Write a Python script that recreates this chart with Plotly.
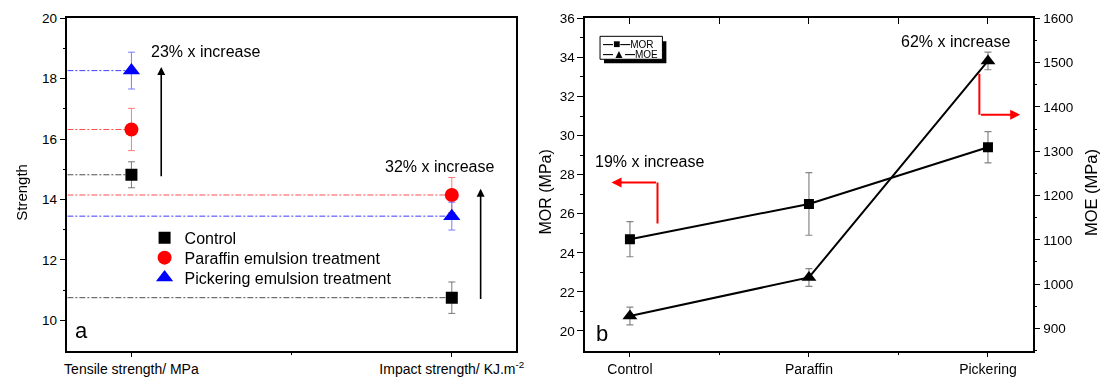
import plotly.graph_objects as go

# ---------------- data (panel a) ----------------
left_categories = ["Tensile strength/ MPa", "Impact strength/ KJ.m<sup>-2</sup>"]
left_positions = [0, 1]
control_vals = [14.82, 10.75]
control_err = [0.43, 0.52]
paraffin_vals = [16.32, 14.15]
paraffin_err = [0.70, 0.58]
pickering_vals = [18.27, 13.45]
pickering_err = [0.61, 0.46]

# ---------------- data (panel b) ----------------
right_categories = ["Control", "Paraffin", "Pickering"]
right_positions = [0, 1, 2]
mor_vals = [24.7, 26.5, 29.4]
mor_err = [0.9, 1.6, 0.8]
moe_vals = [928, 1015, 1504]
moe_err = [20, 20, 20]

FONT = "Liberation Sans, Arial, sans-serif"
XL_RANGE = [-0.2, 1.2]
XR_RANGE = [-0.25, 2.25]
W, H = 1112, 378


def px(p):
    return p / W


def py(p):
    # vertical pixel position (from top) -> paper fraction, with small calibration
    return 1 - ((p - 6.6) / 0.984) / H


fig = go.Figure()

series = [
    ("Control", control_vals, control_err, "black", "rgba(60,60,60,0.9)", "rgba(90,90,90,0.8)", "square", 12, "legend", 238),
    ("Paraffin emulsion treatment", paraffin_vals, paraffin_err, "#ff0000", "rgba(255,60,60,0.9)", "rgba(255,110,110,0.9)", "circle", 14, "legend2", 258),
    ("Pickering emulsion treatment", pickering_vals, pickering_err, "#0000ff", "rgba(40,40,255,0.9)", "rgba(110,110,255,0.9)", "triangle-up", 15, "legend3", 278),
]

# dash-dot guide lines from the left axis to each point
for name, vals, errs, col, lcol, ecol, sym, sz, lg, ly in series:
    for pos, v in zip(left_positions, vals):
        fig.add_trace(go.Scatter(
            x=[XL_RANGE[0], pos], y=[v, v], mode="lines",
            line=dict(color=lcol, width=1, dash="6px,2px,2px,2px"),
            showlegend=False, hoverinfo="skip", xaxis="x", yaxis="y"))

legend_layout = {}
for name, vals, errs, col, lcol, ecol, sym, sz, lg, ly in series:
    fig.add_trace(go.Scatter(
        x=left_positions, y=vals, mode="markers", name=name,
        marker=dict(color=col, symbol=sym, size=sz, line=dict(width=0)),
        error_y=dict(type="data", array=errs, color=ecol, thickness=1, width=3.5),
        xaxis="x", yaxis="y", legend=lg))
    legend_layout[lg] = dict(x=px(143), y=py(ly), xanchor="left", yanchor="middle",
                             bgcolor="rgba(0,0,0,0)", borderwidth=0,
                             font=dict(family=FONT, size=16, color="black"))

# panel b
fig.add_trace(go.Scatter(
    x=right_positions, y=mor_vals, mode="lines+markers", name="MOR", showlegend=False,
    line=dict(color="black", width=2),
    marker=dict(color="black", symbol="square", size=10),
    error_y=dict(type="data", array=mor_err, color="rgba(120,120,120,0.9)", thickness=1.2, width=3.5),
    xaxis="x2", yaxis="y2"))
fig.add_trace(go.Scatter(
    x=right_positions, y=moe_vals, mode="lines+markers", name="MOE", showlegend=False,
    line=dict(color="black", width=2),
    marker=dict(color="black", symbol="triangle-up", size=13),
    error_y=dict(type="data", array=moe_err, color="rgba(120,120,120,0.9)", thickness=1.2, width=3.5),
    xaxis="x2", yaxis="y3"))
# invisible trace to carry the top tick axis
fig.add_trace(go.Scatter(x=right_positions, y=mor_vals, mode="markers", opacity=0,
                         showlegend=False, hoverinfo="skip", xaxis="x3", yaxis="y2"))

ydom = [py(351), py(18)]
axis_common = dict(showgrid=False, zeroline=False, linecolor="black", linewidth=1.5,
                   tickcolor="black", tickwidth=1.2, tickfont=dict(family=FONT, size=13.5, color="black"))
axis_nofont = {k: v for k, v in axis_common.items() if k != "tickfont"}

fig.update_layout(
    width=W, height=H, margin=dict(l=0, r=0, t=0, b=0),
    paper_bgcolor="white", plot_bgcolor="white",
    font=dict(family=FONT, color="black"),
    xaxis=dict(domain=[px(65), px(518)], range=XL_RANGE, anchor="y",
               tickvals=left_positions, ticktext=left_categories, ticks="outside", ticklen=5,
               minor=dict(tickvals=[0.5], ticks="outside", ticklen=3, tickcolor="black"),
               mirror=True, **axis_nofont,
               tickfont=dict(family=FONT, size=14, color="black")),
    yaxis=dict(domain=ydom, range=[9, 20], anchor="x", tickvals=[10, 12, 14, 16, 18, 20],
               ticks="outside", ticklen=6, mirror=True,
               minor=dict(tickvals=[11, 13, 15, 17, 19], ticks="outside", ticklen=3, tickcolor="black"),
               **axis_common),
    xaxis2=dict(domain=[px(588), px(1040)], range=XR_RANGE, anchor="y2",
                tickvals=right_positions, ticktext=right_categories, ticks="outside", ticklen=5,
                minor=dict(tickvals=[0.5, 1.5], ticks="outside", ticklen=3, tickcolor="black"),
                mirror=True, **axis_nofont,
                tickfont=dict(family=FONT, size=14, color="black")),
    xaxis3=dict(overlaying="x2", side="top", anchor="y2", range=XR_RANGE, showgrid=False,
                zeroline=False, showline=False, tickvals=[0, 0.5, 1, 1.5, 2], ticks="inside",
                ticklen=6, tickcolor="black", tickwidth=1.2, showticklabels=False),
    yaxis2=dict(domain=ydom, range=[19, 36], anchor="x2", tickvals=list(range(20, 37, 2)),
                ticks="outside", ticklen=6, showline=True,
                minor=dict(tickvals=list(range(21, 36, 2)), ticks="outside", ticklen=3, tickcolor="black"),
                **axis_common),
    yaxis3=dict(domain=ydom, range=[850, 1600], anchor="x2", overlaying="y2", side="right",
                tickvals=list(range(900, 1601, 100)), ticks="outside", ticklen=6, showline=True,
                minor=dict(tickvals=list(range(850, 1600, 100)), ticks="outside", ticklen=3, tickcolor="black"),
                **axis_common),
    **legend_layout,
)

# legend box (panel b): shadow + bordered box, then two text rows
fig.add_shape(type="rect", xref="paper", yref="paper",
              x0=px(607), x1=px(670), y0=py(63), y1=py(41),
              fillcolor="black", line=dict(width=0), layer="above")
fig.add_shape(type="rect", xref="paper", yref="paper",
              x0=px(603), x1=px(666), y0=py(59), y1=py(36),
              fillcolor="white", line=dict(color="black", width=1), layer="above")

ann = []
for lbl, sym, yy in [("MOR", "■", 43.5), ("MOE", "▲", 53.5)]:
    ann.append(dict(text="<b>—</b><span style='font-size:12px'>" + sym + "</span><b>—</b>" + lbl,
                    xref="paper", yref="paper", x=px(604), y=py(yy),
                    xanchor="left", yanchor="middle", showarrow=False,
                    font=dict(size=10, family=FONT)))
# axis titles
ann.append(dict(text="Strength", xref="paper", yref="paper", x=px(19), y=py(192),
                xanchor="center", yanchor="middle",
                textangle=-90, showarrow=False, font=dict(size=15)))
ann.append(dict(text="MOR (MPa)", xref="paper", yref="paper", x=px(548), y=py(192),
                xanchor="center", yanchor="middle",
                textangle=-90, showarrow=False, font=dict(size=16)))
ann.append(dict(text="MOE (MPa)", xref="paper", yref="paper", x=px(1099), y=py(193),
                xanchor="center", yanchor="middle",
                textangle=-90, showarrow=False, font=dict(size=16.5)))
# panel letters
ann.append(dict(text="a", xref="paper", yref="paper", x=px(79), y=py(331),
                xanchor="center", yanchor="middle", showarrow=False, font=dict(size=22)))
ann.append(dict(text="b", xref="paper", yref="paper", x=px(605), y=py(334),
                xanchor="center", yanchor="middle", showarrow=False, font=dict(size=22)))
# panel a texts and arrows
ann.append(dict(text="23% x increase", xref="x", yref="y", x=0.054, y=18.89, xanchor="left",
                yanchor="middle", showarrow=False, font=dict(size=16)))
ann.append(dict(text="32% x increase", xref="x", yref="y", x=0.784, y=15.09, xanchor="left",
                yanchor="middle", showarrow=False, font=dict(size=16)))
ann.append(dict(text="", xref="x", yref="y", axref="x", ayref="y", x=0.093, y=18.39, ax=0.093, ay=14.72,
                showarrow=True, arrowhead=2, arrowsize=1, arrowwidth=1.6, arrowcolor="black",
                standoff=0, startstandoff=0))
ann.append(dict(text="", xref="x", yref="y", axref="x", ayref="y", x=1.09, y=14.36, ax=1.09, ay=10.66,
                showarrow=True, arrowhead=2, arrowsize=1, arrowwidth=1.6, arrowcolor="black",
                standoff=0, startstandoff=0))
# panel b texts and arrows
ann.append(dict(text="19% x increase", xref="x2", yref="y2", x=0.11, y=28.65,
                xanchor="center", yanchor="middle", showarrow=False, font=dict(size=16)))
ann.append(dict(text="62% x increase", xref="x2", yref="y2", x=1.82, y=34.8,
                xanchor="center", yanchor="middle", showarrow=False, font=dict(size=16)))
ann.append(dict(text="", xref="x2", yref="y2", axref="x2", ayref="y2", x=-0.103, y=27.6, ax=0.154, ay=27.6,
                showarrow=True, arrowhead=2, arrowsize=1, arrowwidth=2, arrowcolor="#ff0000",
                standoff=0, startstandoff=0))
ann.append(dict(text="", xref="x2", yref="y2", axref="x2", ayref="y2", x=2.18, y=31.07, ax=1.952, ay=31.07,
                showarrow=True, arrowhead=2, arrowsize=1, arrowwidth=2, arrowcolor="#ff0000",
                standoff=0, startstandoff=0))
fig.update_layout(annotations=ann)

fig.add_shape(type="line", xref="x2", yref="y2", x0=0.154, x1=0.154, y0=25.5, y1=27.6,
              line=dict(color="#ff0000", width=2))
fig.add_shape(type="line", xref="x2", yref="y2", x0=1.952, x1=1.952, y0=33.16, y1=31.07,
              line=dict(color="#ff0000", width=2))

fig.write_html("out.html", config={"displayModeBar": False},
               post_script="document.body.style.margin='0';document.body.style.overflow='hidden';")
